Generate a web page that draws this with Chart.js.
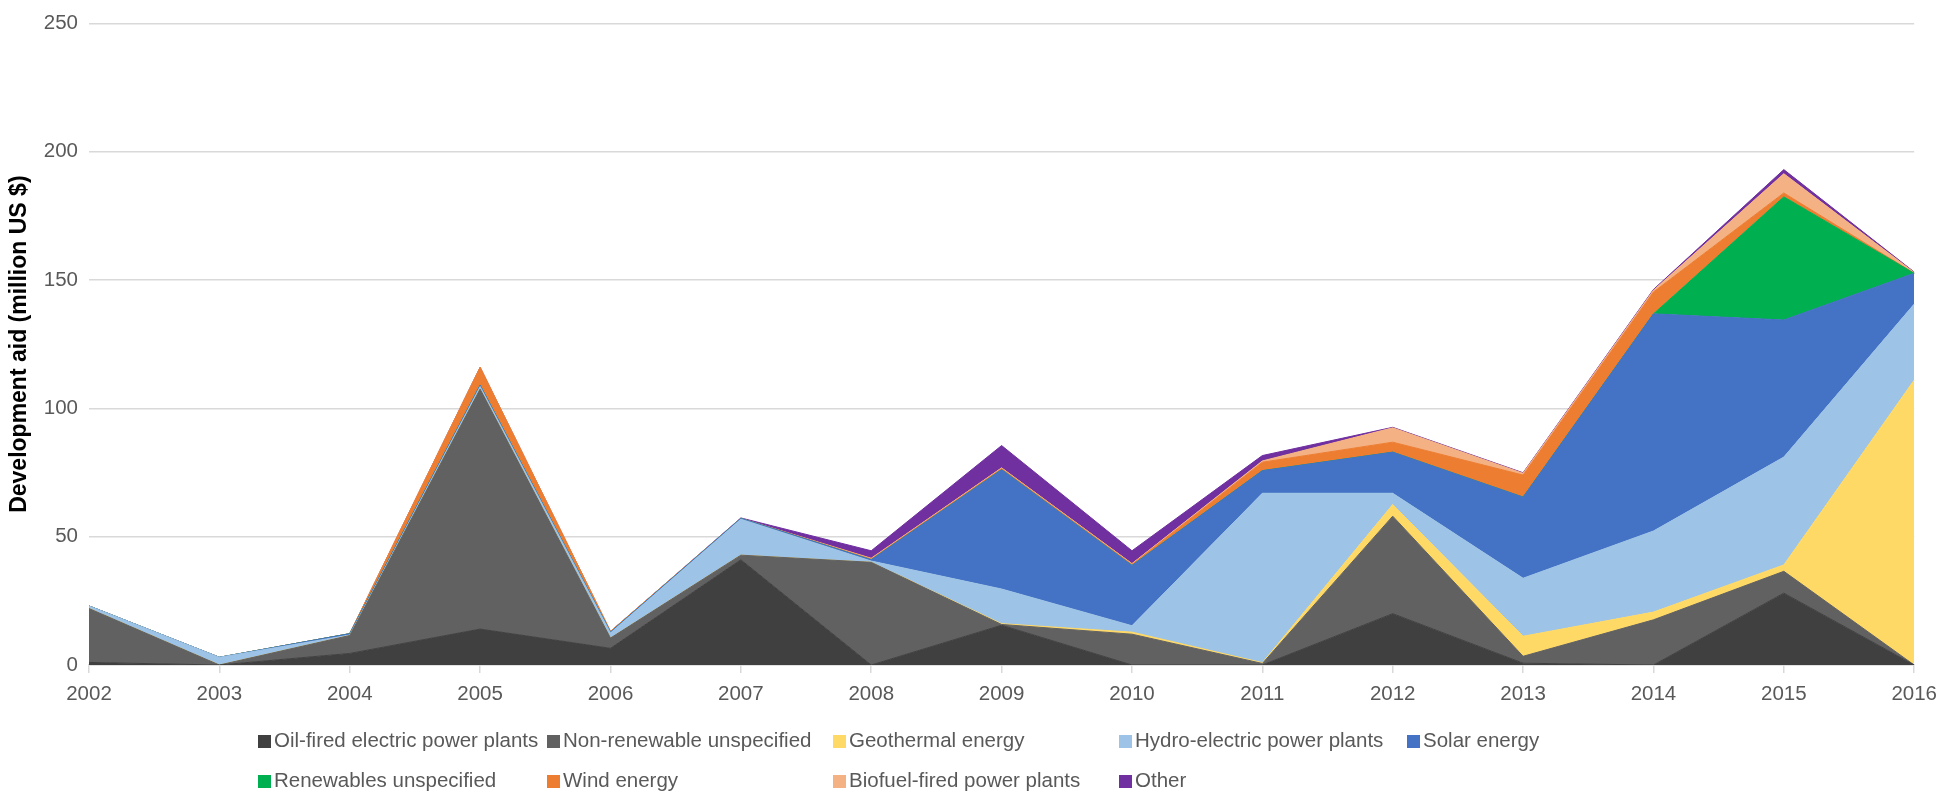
<!DOCTYPE html>
<html>
<head>
<meta charset="utf-8">
<script src="https://cdn.jsdelivr.net/npm/chart.js@4.4.1/dist/chart.umd.min.js"></script>
<style>
  html, body { margin: 0; padding: 0; background: #fff; }
  #wrap { position: relative; width: 1946px; height: 795px; overflow: hidden; }
  #legend { position: absolute; left: 0; top: 0; width: 1946px; height: 795px; pointer-events: none; }
  .item { position: absolute; font: 20.5px "Liberation Sans", Arial, sans-serif; color: #595959; white-space: nowrap; line-height: 24px; }
  .item span.box { display: inline-block; width: 13px; height: 13px; margin-right: 3px; vertical-align: -1px; }
</style>
</head>
<body>
<div id="wrap">
  <canvas id="chart" width="1946" height="795"></canvas>
  <div id="legend"></div>
</div>
<script>
// Chart data
const years = ['2002', '2003', '2004', '2005', '2006', '2007', '2008', '2009', '2010', '2011', '2012', '2013', '2014', '2015', '2016'];

const oilFired     = [1, 0, 4.5, 14, 6.5, 41, 0, 15.5, 0, 0, 20, 0.7, 0, 28, 0];
const nonRenewable = [21, 0, 7, 93.5, 4, 1.8, 40, 0.3, 12, 0.6, 38, 2.7, 17.6, 8.5, 0];
const geothermal   = [0, 0, 0, 0, 0, 0, 0, 0.3, 0.8, 0.3, 4.5, 7.8, 3, 2.5, 111];
const hydro        = [1, 3, 0.2, 1, 2, 14, 0.5, 13.5, 2.5, 66, 4.4, 22.6, 31.6, 42, 29.6];
const solar        = [0, 0, 0.5, 0.5, 0.3, 0.3, 0.5, 46.5, 23.5, 8.8, 16, 31.6, 84.6, 53.4, 12];
const renewables   = [0, 0, 0, 0, 0, 0, 0, 0, 0, 0, 0, 0, 0, 48, 0];
const wind         = [0, 0, 0, 7, 0.3, 0, 0.3, 0.4, 0.4, 3.3, 3.9, 8.6, 8.5, 1.5, 0];
const biofuel      = [0, 0, 0, 0, 0, 0, 0.3, 0.3, 0.3, 0.5, 5.6, 0.7, 0.7, 7.5, 0.3];
const other        = [0, 0, 0, 0, 0, 0.2, 2.9, 8.7, 5, 2.1, 0.2, 0.2, 0.3, 1.6, 0.2];

const yTicks = [0, 50, 100, 150, 200, 250];

// Series: label, values, colour
const series = [
  ['Oil-fired electric power plants', oilFired, '#404040'],
  ['Non-renewable unspecified', nonRenewable, '#616161'],
  ['Geothermal energy', geothermal, '#FFD966'],
  ['Hydro-electric power plants', hydro, '#9DC3E6'],
  ['Solar energy', solar, '#4472C4'],
  ['Renewables unspecified', renewables, '#00B050'],
  ['Wind energy', wind, '#ED7D31'],
  ['Biofuel-fired power plants', biofuel, '#F4B183'],
  ['Other', other, '#7030A0']
];

// Legend grid (two rows, fixed columns like the Excel legend)
const legendCols = [258, 547, 833, 1119, 1407];
const legendRows = [728, 768];

const tickColor = '#595959';
const gridColor = '#d9d9d9';

const datasets = series.map(([label, values, color], i) => ({
  label: label,
  data: values,
  backgroundColor: color,
  borderColor: color,
  borderWidth: 1,
  pointRadius: 0,
  tension: 0,
  fill: i === 0 ? 'origin' : '-1'
}));

new Chart(document.getElementById('chart').getContext('2d'), {
  type: 'line',
  data: { labels: years, datasets: datasets },
  options: {
    responsive: false,
    animation: false,
    events: [],
    layout: { padding: { top: 11, right: 25, bottom: 90, left: 0 } },
    plugins: {
      legend: { display: false },
      tooltip: { enabled: false }
    },
    scales: {
      x: {
        offset: false,
        grid: { drawOnChartArea: false, drawTicks: true, tickLength: 8, color: gridColor, lineWidth: 1.5 },
        border: { display: true, color: gridColor, width: 1.5 },
        ticks: { color: tickColor, font: { family: 'Liberation Sans', size: 20.5 }, padding: 9, maxRotation: 0, autoSkip: false },
        afterFit: (scale) => { scale.height = 40; }
      },
      y: {
        stacked: true,
        min: 0,
        max: 250,
        afterBuildTicks: (scale) => { scale.ticks = yTicks.map(v => ({ value: v })); },
        grid: { drawTicks: false, color: gridColor, lineWidth: 1.5 },
        border: { display: false },
        ticks: { color: tickColor, font: { family: 'Liberation Sans', size: 20.5 }, padding: 11 },
        title: {
          display: true,
          text: 'Development aid (million US $)',
          color: '#000',
          font: { family: 'Liberation Sans', size: 23, weight: 'bold' },
          padding: { top: 6, bottom: 0 }
        },
        afterFit: (scale) => { scale.width = 89; }
      }
    }
  }
});

// HTML legend, built from the series list
const legendEl = document.getElementById('legend');
series.forEach(([label, , color], i) => {
  const row = i < 5 ? 0 : 1;
  const col = i < 5 ? i : i - 5;
  const item = document.createElement('div');
  item.className = 'item';
  item.style.left = legendCols[col] + 'px';
  item.style.top = legendRows[row] + 'px';
  item.innerHTML = '<span class="box" style="background:' + color + '"></span>' + label;
  legendEl.appendChild(item);
});
</script>
</body>
</html>
